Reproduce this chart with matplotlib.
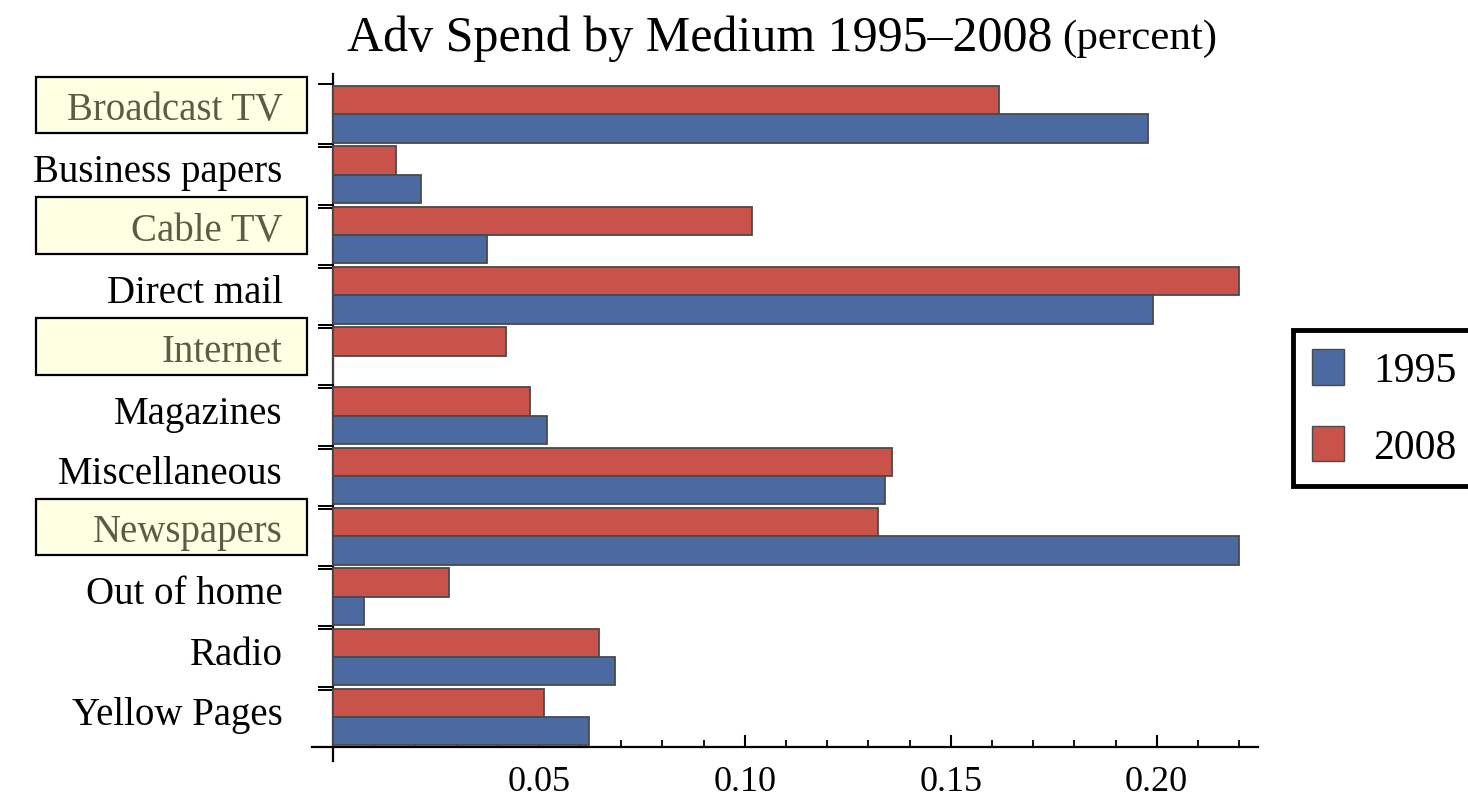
import matplotlib
matplotlib.use("Agg")
import matplotlib.pyplot as plt
import matplotlib.ticker as mticker
from matplotlib.patches import Rectangle, Patch
import numpy as np

plt.rcParams['font.family'] = ['Liberation Serif', 'DejaVu Serif']

# data (share of ad spend)
categories = ["Broadcast TV", "Business papers", "Cable TV", "Direct mail", "Internet",
              "Magazines", "Miscellaneous", "Newspapers", "Out of home", "Radio", "Yellow Pages"]
spend_1995 = [0.198, 0.0214, 0.0374, 0.199, 0.0, 0.052, 0.134, 0.220, 0.0075, 0.0684, 0.0621]
spend_2008 = [0.1617, 0.0153, 0.1017, 0.220, 0.042, 0.0478, 0.1357, 0.1323, 0.0282, 0.0646, 0.0512]
highlighted = ["Broadcast TV", "Cable TV", "Internet", "Newspapers"]
years = ["1995", "2008"]

blue = '#4a6aa1'
red = '#c9534a'
edge = '#4a4a4a'

fig = plt.figure(figsize=(14.68, 8.03), dpi=100)
ax = fig.add_axes([312 / 1468, 41 / 803, 946 / 1468, 687 / 803])

n = len(categories)
centers = np.arange(n)[::-1].astype(float)   # top category first
h = 0.47

ax.barh(centers + 0.23, spend_2008, height=h, color=red, edgecolor=edge, linewidth=1.3, zorder=3)
ax.barh(centers - 0.24, spend_1995, height=h, color=blue, edgecolor=edge, linewidth=1.3, zorder=3)

ax.set_xlim(-0.0051, 0.2246)
ax.set_ylim(-0.5 - 14 / 60.3, n - 0.5 + 10 / 60.3)

# axes crossing at origin of the category block
for s in ['top', 'right']:
    ax.spines[s].set_visible(False)
ax.spines['left'].set_position(('data', 0))
ax.spines['bottom'].set_position(('data', -0.5))
ax.spines['left'].set_linewidth(1.6)
ax.spines['bottom'].set_linewidth(1.6)

# x ticks
ax.xaxis.set_major_locator(mticker.FixedLocator([0.05, 0.10, 0.15, 0.20]))
ax.xaxis.set_minor_locator(mticker.FixedLocator([v / 100 for v in range(1, 23) if v % 5 != 0]))
ax.xaxis.set_major_formatter(mticker.FormatStrFormatter('%.2f'))
ax.tick_params(axis='x', which='major', direction='in', length=9, width=1.5, labelsize=26, pad=13)
ax.tick_params(axis='x', which='minor', direction='in', length=5, width=1.3)

# y ticks: double marks at category boundaries, labels drawn as text
bounds = list(np.arange(n) + 0.5)
ax.yaxis.set_major_locator(mticker.FixedLocator(bounds + [b - 0.05 for b in bounds[:-1]]))
ax.yaxis.set_major_formatter(mticker.NullFormatter())
ax.tick_params(axis='y', which='major', direction='out', length=11, width=1.4)

ytr = ax.get_yaxis_transform()
for c, name in zip(centers, categories):
    if name in highlighted:
        ax.add_patch(Rectangle((-0.2915, c - 0.32), 0.2865, 0.94, transform=ytr,
                               facecolor='#ffffe3', edgecolor='black', linewidth=1.6, clip_on=False))
        ax.text(-0.031, c + 0.07, name, transform=ytr, ha='right', va='center',
                fontsize=28, color='#5c5c44')
    else:
        ax.text(-0.031, c + 0.04, name, transform=ytr, ha='right', va='center',
                fontsize=28, color='black')

# title with smaller units
fig.text(0.7166, 0.952, "Adv Spend by Medium 1995\u20132008", ha='right', va='center', fontsize=36)
fig.text(0.7234, 0.952, "(percent)", ha='left', va='center', fontsize=31)

handles = [Patch(facecolor=blue, edgecolor=edge), Patch(facecolor=red, edgecolor=edge)]
leg = fig.legend(handles, years, loc='center left', bbox_to_anchor=(1293 / 1468, 1 - 409 / 803),
                 fontsize=30, frameon=True, fancybox=False, framealpha=1, handlelength=0.78,
                 handleheight=0.94, handletextpad=0.7, borderpad=0.45, labelspacing=0.85,
                 borderaxespad=0)
leg.get_frame().set_edgecolor('black')
leg.get_frame().set_linewidth(3.5)

fig.savefig("out.png", dpi=100)
